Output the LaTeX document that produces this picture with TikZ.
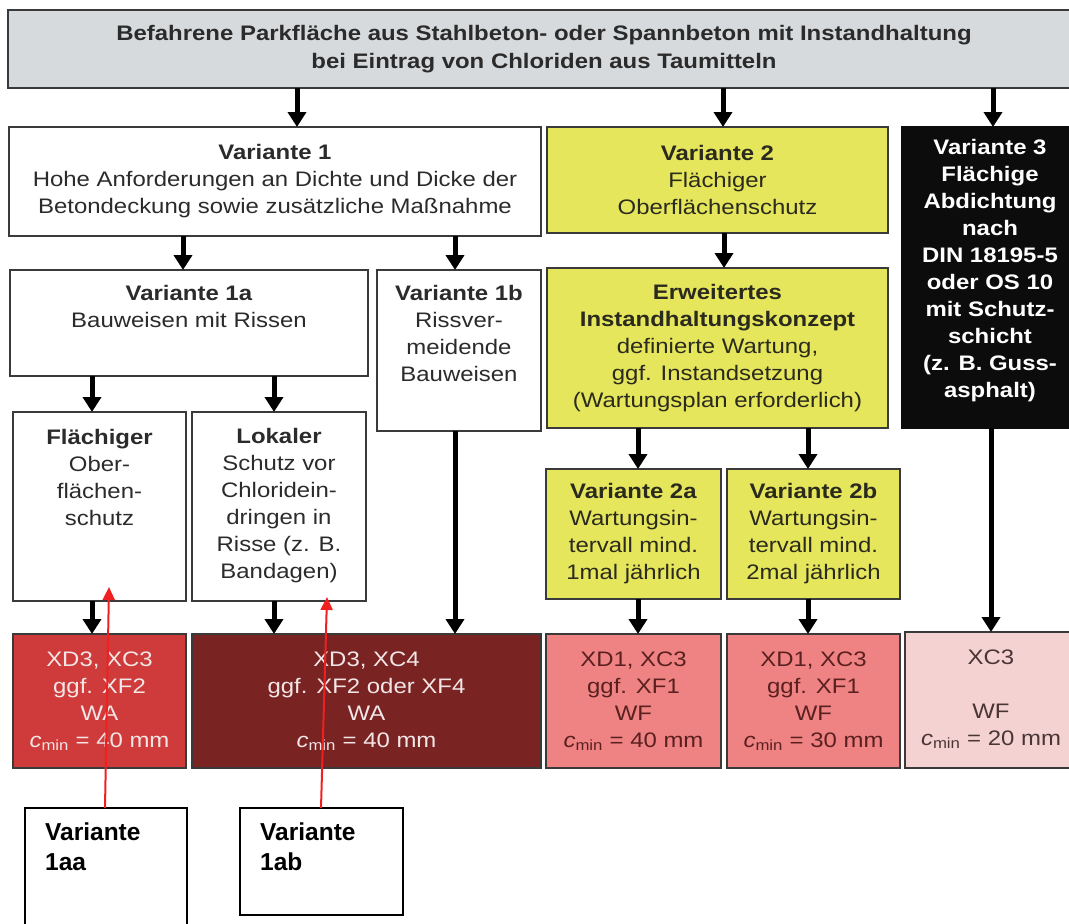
\documentclass[tikz,border=0pt]{standalone}
\usepackage{fontspec}
\setmainfont{Liberation Sans}[FakeStretch=1.14]
\newfontfamily\plainsans{Liberation Sans}
\usetikzlibrary{arrows.meta}
\definecolor{topgray}{HTML}{D7DADC}
\definecolor{yel}{HTML}{E6E65C}
\definecolor{blk}{HTML}{0C0C0C}
\definecolor{redA}{HTML}{CF3A3A}
\definecolor{maroon}{HTML}{7A2323}
\definecolor{salmon}{HTML}{EF8383}
\definecolor{pinklt}{HTML}{F4D2D2}
\definecolor{bordergray}{HTML}{3A3A3A}
\definecolor{txtgray}{HTML}{2B2B2B}
\definecolor{txtyel}{HTML}{2A2A1E}
\definecolor{txtlight}{HTML}{F2E6E6}
\definecolor{txtsalmon}{HTML}{5A2020}
\definecolor{txtpink}{HTML}{4A3535}
\definecolor{redline}{HTML}{F02020}
\newcommand{\mybox}[7]{\node[box,#6,minimum width={#4-#2},minimum height={#5-#3}] (#1) at ({(#2+#4)/2},{(#3+#5)/2}) {#7};}
\newcommand{\cmin}{{\itshape c}\textsubscript{min}}
\begin{document}
\begin{tikzpicture}[x=1pt,y=-1pt,
  box/.style={draw=bordergray,line width=1.6pt,inner sep=0pt,outer sep=0pt,align=center,font=\fontsize{21}{27}\selectfont},
  txt/.style={align=center,inner sep=0pt,font=\fontsize{21}{27}\selectfont},
  arr/.style={draw=black,line width=5pt,-{Triangle[width=18pt,length=15pt]}},
  redarr/.style={draw=redline,line width=2pt,-{Triangle[width=12pt,length=13pt]}},
  notebox/.style={draw=black,line width=1.5pt,fill=white,inner sep=0pt,outer sep=0pt},
  notetxt/.style={anchor=north west,inner sep=0pt,align=left,font=\plainsans\bfseries\fontsize{24.5}{30}\selectfont}]
\useasboundingbox (0,0) rectangle (1069,924);
\fill[white] (0,0) rectangle (1069,924);
\clip (0,0) rectangle (1069,924);

% boxes
\mybox{top}{8}{10}{1080}{88}{fill=topgray,text=txtgray,font=\bfseries\fontsize{21}{28}\selectfont}{Befahrene Parkfläche aus Stahlbeton- oder Spannbeton mit Instandhaltung\\bei Eintrag von Chloriden aus Taumitteln}
\mybox{v1}{9}{127}{541}{236}{fill=white,text=txtgray}{\textbf{Variante 1}\\Hohe Anforderungen an Dichte und Dicke der\\Betondeckung sowie zusätzliche Maßnahme}
\mybox{v2}{547}{127}{888}{233}{fill=yel,text=txtyel}{\textbf{Variante 2}\\Flächiger\\Oberflächenschutz}
\mybox{v3}{902}{127}{1080}{428}{fill=blk,draw=blk}{}
\node[txt,text=white,font=\bfseries\fontsize{21}{27}\selectfont] (tv3) at (990,271) {Variante 3\\Flächige\\Abdichtung\\nach\\DIN 18195-5\\oder OS 10\\mit Schutz-\\schicht\\(z. B. Guss-\\asphalt)};

\mybox{v1a}{10}{270}{368}{376}{fill=white}{}
\node[txt,text=txtgray,anchor=north] (tv1a) at ([yshift=-15.5pt]v1a.north) {\textbf{Variante 1a}\\Bauweisen mit Rissen};
\mybox{v1b}{377}{270}{541}{431}{fill=white}{}
\node[txt,text=txtgray,anchor=north] (tv1b) at ([yshift=-15.5pt]v1b.north) {\textbf{Variante 1b}\\Rissver-\\meidende\\Bauweisen};
\mybox{erw}{547}{268}{888}{428}{fill=yel,text=txtyel}{\textbf{Erweitertes}\\\textbf{Instandhaltungskonzept}\\definierte Wartung,\\ggf. Instandsetzung\\(Wartungsplan erforderlich)}

\mybox{fl}{13}{412}{186}{601}{fill=white}{}
\node[txt,text=txtgray,anchor=north] (tfl) at ([yshift=-17pt]fl.north) {\textbf{Flächiger}\\Ober-\\flächen-\\schutz};
\mybox{lo}{192}{412}{366}{601}{fill=white}{}
\node[txt,text=txtgray,anchor=north] (tlo) at ([yshift=-16pt]lo.north) {\textbf{Lokaler}\\Schutz vor\\Chloridein-\\dringen in\\Risse (z. B.\\Bandagen)};
\mybox{v2a}{546}{469}{721}{599}{fill=yel,text=txtyel}{\textbf{Variante 2a}\\Wartungsin-\\tervall mind.\\1mal jährlich}
\mybox{v2b}{727}{469}{900}{599}{fill=yel,text=txtyel}{\textbf{Variante 2b}\\Wartungsin-\\tervall mind.\\2mal jährlich}

\mybox{b1}{13}{634}{186}{768}{fill=redA,text=txtlight}{XD3, XC3\\ggf. XF2\\WA\\\cmin{} = 40 mm}
\mybox{b2}{192}{634}{541}{768}{fill=maroon,text=txtlight}{XD3, XC4\\ggf. XF2 oder XF4\\WA\\\cmin{} = 40 mm}
\mybox{b3}{546}{634}{721}{768}{fill=salmon,text=txtsalmon}{XD1, XC3\\ggf. XF1\\WF\\\cmin{} = 40 mm}
\mybox{b4}{727}{634}{900}{768}{fill=salmon,text=txtsalmon}{XD1, XC3\\ggf. XF1\\WF\\\cmin{} = 30 mm}
\mybox{b5}{905}{632}{1080}{768}{fill=pinklt}{}
\node[txt,text=txtpink] (tb5) at (991,699) {XC3\\[27pt]WF\\\cmin{} = 20 mm};

% arrows
\draw[arr] (top.south -| 297,0) -- (v1.north -| 297,0);
\draw[arr] (top.south -| 723,0) -- (v2.north -| 723,0);
\draw[arr] (top.south -| 993,0) -- (v3.north -| 993,0);
\draw[arr] (v1.south -| 183,0) -- (v1a.north -| 183,0);
\draw[arr] (v1.south -| 455,0) -- (v1b.north -| 455,0);
\draw[arr] (v2.south -| 724,0) -- (erw.north -| 724,0);
\draw[arr] (v1a.south -| 92,0) -- (fl.north -| 92,0);
\draw[arr] (v1a.south -| 274,0) -- (lo.north -| 274,0);
\draw[arr] (v1b.south -| 455,0) -- (b2.north -| 455,0);
\draw[arr] (erw.south -| 638,0) -- (v2a.north -| 638,0);
\draw[arr] (erw.south -| 808,0) -- (v2b.north -| 808,0);
\draw[arr] (v3.south -| 991,0) -- (b5.north -| 991,0);
\draw[arr] (fl.south -| 92,0) -- (b1.north -| 92,0);
\draw[arr] (lo.south -| 274,0) -- (b2.north -| 274,0);
\draw[arr] (v2a.south -| 638,0) -- (b3.north -| 638,0);
\draw[arr] (v2b.south -| 808,0) -- (b4.north -| 808,0);

% annotation boxes
\node[notebox,minimum width=162,minimum height=132] (n1aa) at (106,874) {};
\node[notetxt] (tn1aa) at ([xshift=20pt,yshift=-15pt]n1aa.north west) {Variante\\1aa};
\node[notebox,minimum width=163,minimum height=107] (n1ab) at (321.5,861.5) {};
\node[notetxt] (tn1ab) at ([xshift=20pt,yshift=-15pt]n1ab.north west) {Variante\\1ab};

\coordinate (r1) at (109,587);
\coordinate (r2) at (327,597);
\draw[redarr] (n1aa.north -| 105,0) -- (r1);
\draw[redarr] (n1ab.north -| 321,0) -- (r2);
\end{tikzpicture}
\end{document}
